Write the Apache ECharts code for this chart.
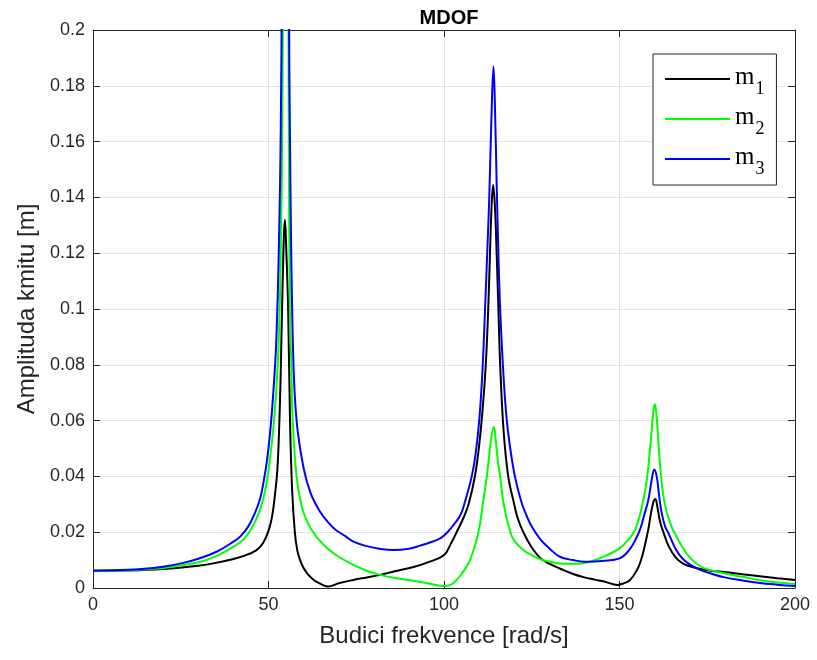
<!DOCTYPE html>
<html>
<head>
<meta charset="utf-8">
<script src="https://cdn.jsdelivr.net/npm/echarts@6/dist/echarts.min.js"></script>
<style>
html,body{margin:0;padding:0;background:#fff;}
#chart{width:817px;height:660px;}
</style>
</head>
<body>
<div id="chart"></div>
<script>
// ---- data ----
const xTicks = [0, 50, 100, 150, 200];
const yTicks = [0, 0.02, 0.04, 0.06, 0.08, 0.1, 0.12, 0.14, 0.16, 0.18, 0.2];
const seriesNames = ['m1', 'm2', 'm3'];

const m1X = [0,10,20,30,35,40,43,46.6,48.5,50,51,51.8,52.5,53,53.5,54,54.7,55.1,55.6,56.1,56.7,57.5,58.2,59,60,61.3,63,65,67,70,74.2,78,81.8,86,91.3,95,100,102,103.6,105.5,107,108.8,110,111,111.9,112.6,113.1,113.6,114,114.5,115,115.5,116,117,118.3,120,121,122.6,125,127.4,130,133,136.8,140,143,146.3,148,149.5,151,153,155,156,157,158.2,159,159.7,160.2,160.8,161.5,162.5,164,166,168,170,173,176,180,185,190,195,200];
const m1Y = [0.0062,0.0063,0.0068,0.0080,0.0090,0.0104,0.0115,0.0136,0.0162,0.0205,0.0255,0.033,0.042,0.056,0.078,0.108,0.132,0.120,0.100,0.062,0.036,0.020,0.0135,0.0100,0.0072,0.0048,0.0028,0.0014,0.0005,0.0017,0.0029,0.0038,0.0047,0.0060,0.0075,0.0090,0.0118,0.016,0.020,0.025,0.030,0.040,0.051,0.064,0.080,0.100,0.120,0.138,0.1444,0.137,0.120,0.100,0.080,0.056,0.040,0.030,0.025,0.020,0.0145,0.0108,0.0087,0.0070,0.0050,0.0038,0.0030,0.0021,0.0014,0.0011,0.0016,0.0029,0.0065,0.0095,0.014,0.021,0.027,0.031,0.0319,0.029,0.024,0.020,0.015,0.011,0.0088,0.0078,0.0068,0.0062,0.0057,0.0049,0.0042,0.0035,0.0029];

const m2X = [0,10,16.2,20,30,35.2,40,43,45.2,47,48.5,49.5,50.5,51.7,52.8,53.5,54.0,54.4,54.9,55.4,55.8,56.1,56.5,56.9,58,59.5,61.1,63,64.7,67,70,74.2,78,81.8,86,91.3,95,98,100,102,103.6,105,107.4,109.8,111.2,112.2,113.3,114.2,114.8,115.4,116,117,118.9,120,122.6,125,127.4,130,133,136.8,140,143,146,150,153,154.5,156,157.3,158,159,159.7,160.1,160.6,161.2,161.7,162.5,163.5,165,166,168,170,173,176,180,185,190,195,200];
const m2Y = [0.0062,0.0064,0.0068,0.0072,0.0092,0.0115,0.0148,0.0175,0.0215,0.026,0.032,0.038,0.047,0.062,0.085,0.12,0.18,0.30,0.42,0.30,0.16,0.10,0.08,0.06,0.040,0.029,0.0235,0.0195,0.0168,0.0140,0.0112,0.0083,0.0062,0.0047,0.0036,0.0026,0.0018,0.0010,0.0007,0.0012,0.0029,0.005,0.010,0.020,0.0315,0.040,0.052,0.0578,0.052,0.045,0.040,0.030,0.020,0.017,0.0136,0.0118,0.0103,0.0095,0.0088,0.0087,0.0090,0.0100,0.0115,0.0142,0.018,0.021,0.027,0.035,0.041,0.054,0.064,0.0659,0.061,0.050,0.042,0.033,0.027,0.0215,0.019,0.0145,0.011,0.0078,0.0064,0.0052,0.0040,0.0028,0.0020,0.0014];

const m3X = [0,10,16.2,20,25.7,30,35.2,40,42,44.2,46,47.6,48.6,49.6,50.4,51.2,52.2,53,53.5,53.8,54.3,54.8,55.3,55.8,56.2,57,58,60,62,64.7,67,69,72,74.2,78,82,85.6,90,93.2,96,98.9,100,102,104.6,106,107.9,109,110.1,111,111.7,112.4,112.9,113.5,114.1,114.6,115,115.5,116,117,117.9,119,120.2,122,123.5,125,127.4,130,133,136.8,140,141.6,145,150,153,155.8,157,158.2,159.2,159.9,160.6,161.3,162,163,164,166,168,170,173,176,180,185,190,195,200];
const m3Y = [0.0062,0.0065,0.0071,0.0076,0.0090,0.0105,0.0130,0.0166,0.0185,0.022,0.0265,0.032,0.038,0.046,0.055,0.067,0.088,0.125,0.165,0.22,0.40,0.55,0.40,0.22,0.15,0.085,0.060,0.043,0.034,0.0273,0.0235,0.021,0.0185,0.0166,0.0150,0.0140,0.0136,0.0141,0.0152,0.0163,0.0178,0.0188,0.0215,0.026,0.031,0.040,0.048,0.061,0.079,0.10,0.123,0.14,0.168,0.187,0.168,0.145,0.12,0.10,0.075,0.060,0.049,0.040,0.031,0.026,0.022,0.0175,0.0142,0.0112,0.0100,0.0094,0.0094,0.0097,0.0106,0.0140,0.0208,0.026,0.0315,0.039,0.0425,0.040,0.033,0.027,0.022,0.0195,0.014,0.0105,0.0085,0.0065,0.0052,0.0038,0.0027,0.0018,0.0012,0.0007];

// ---- build chart ----
function zip(xs, ys) { return xs.map((x, i) => [x, ys[i]]); }
const AX = '#262626';
const GRIDC = '#e3e3e3';
const FONT = 'Liberation Sans, Arial, Helvetica, sans-serif';
const SERIF = 'Liberation Serif, Times New Roman, serif';

const chart = echarts.init(document.getElementById('chart'), null, {renderer: 'canvas'});

function fmtY(v) { return String(+v.toFixed(2)); }

const baseX = {type: 'value', min: xTicks[0], max: xTicks[xTicks.length - 1], interval: 50};
const baseY = {type: 'value', min: yTicks[0], max: yTicks[yTicks.length - 1], interval: 0.02};

const option = {
  backgroundColor: '#fff',
  animation: false,
  title: {
    text: 'MDOF', left: 444, top: 3, textAlign: 'center',
    textStyle: {fontFamily: FONT, fontSize: 20, fontWeight: 'bold', color: '#000'}
  },
  grid: {left: 93, right: 22, top: 30, bottom: 72, containLabel: false},
  legend: {
    data: seriesNames,
    orient: 'vertical', left: 653, top: 54,
    padding: [11, 12, 7, 12],
    icon: 'rect',
    itemWidth: 65, itemHeight: 2, itemGap: 7,
    backgroundColor: '#fff', borderColor: AX, borderWidth: 1, borderRadius: 0,
    formatter: function (name) { return '{m|m}{s|' + name.slice(1) + '}'; },
    textStyle: {
      rich: {
        m: {fontFamily: SERIF, fontSize: 25, color: '#000', padding: [0, 0, 3, 0]},
        s: {fontFamily: SERIF, fontSize: 18, color: '#000', padding: [20, 0, 0, 1]}
      }
    }
  },
  xAxis: [
    Object.assign({}, baseX, {
      position: 'bottom',
      name: 'Budici frekvence [rad/s]', nameLocation: 'middle', nameGap: 36,
      nameTextStyle: {fontFamily: FONT, fontSize: 24, color: AX},
      axisLine: {show: true, onZero: false, lineStyle: {color: AX, width: 1}},
      axisTick: {show: true, inside: true, length: 7, lineStyle: {color: AX}},
      axisLabel: {fontFamily: FONT, fontSize: 18, color: AX, margin: 8},
      splitLine: {show: true, lineStyle: {color: GRIDC, width: 1}}
    }),
    Object.assign({}, baseX, {
      position: 'top',
      axisLine: {show: true, onZero: false, lineStyle: {color: AX, width: 1}},
      axisTick: {show: true, inside: true, length: 7, lineStyle: {color: AX}},
      axisLabel: {show: false},
      splitLine: {show: false}
    })
  ],
  yAxis: [
    Object.assign({}, baseY, {
      position: 'left',
      name: 'Amplituda kmitu [m]', nameLocation: 'middle', nameGap: 53,
      nameTextStyle: {fontFamily: FONT, fontSize: 24, color: AX},
      axisLine: {show: true, onZero: false, lineStyle: {color: AX, width: 1}},
      axisTick: {show: true, inside: true, length: 7, lineStyle: {color: AX}},
      axisLabel: {fontFamily: FONT, fontSize: 18, color: AX, margin: 8, formatter: fmtY},
      splitLine: {show: true, lineStyle: {color: GRIDC, width: 1}}
    }),
    Object.assign({}, baseY, {
      position: 'right',
      axisLine: {show: true, onZero: false, lineStyle: {color: AX, width: 1}},
      axisTick: {show: true, inside: true, length: 7, lineStyle: {color: AX}},
      axisLabel: {show: false},
      splitLine: {show: false}
    })
  ],
  series: [
    {name: 'm1', type: 'line', data: zip(m1X, m1Y), color: '#000000'},
    {name: 'm2', type: 'line', data: zip(m2X, m2Y), color: '#00ff00'},
    {name: 'm3', type: 'line', data: zip(m3X, m3Y), color: '#0000ff'}
  ].map(s => Object.assign(s, {
    xAxisIndex: 0, yAxisIndex: 0, symbol: 'none', showSymbol: false,
    smooth: 0.4, clip: true,
    lineStyle: {width: 2, color: s.color}, itemStyle: {color: s.color}
  }))
};
chart.setOption(option);
</script>
</body>
</html>
